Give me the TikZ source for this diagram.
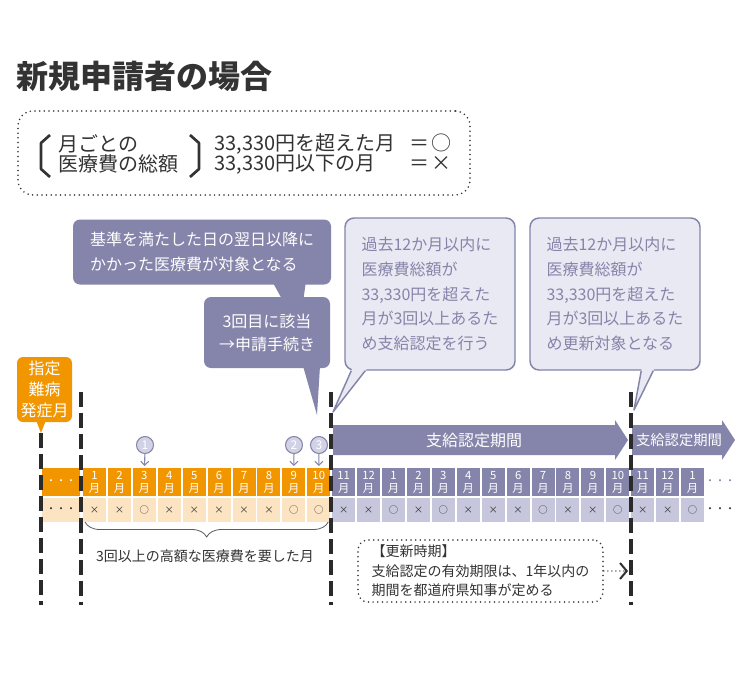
\documentclass[tikz,border=0pt]{standalone}
\usepackage{fontspec}
\setmainfont{Noto Sans CJK JP}
\usetikzlibrary{positioning,calc,arrows.meta,decorations.pathreplacing}

\definecolor{orangeA}{HTML}{F29600}
\definecolor{orangeB}{HTML}{FCE4C3}
\definecolor{purpA}{HTML}{8584AA}
\definecolor{purpB}{HTML}{C6C6DC}
\definecolor{purpC}{HTML}{D2D2E6}
\definecolor{purpL}{HTML}{E9E9F3}
\definecolor{ink}{HTML}{333333}
\definecolor{bar}{HTML}{2A2A2A}

\newdimen\px \px=0.75pt

\tikzset{
  dotline/.style={draw=ink, line width=1.3pt, line cap=round, dash pattern=on 0pt off 3.5pt},
  vbar/.style={draw=bar, line width=2.8pt, dash pattern=on 11.25pt off 4.5pt},
  callD/.style={fill=purpA, text=white, rounded corners=7\px, inner sep=0pt, align=left,
    font=\fontsize{12pt}{18.75pt}\selectfont},
  callL/.style={fill=purpL, draw=purpA, line width=1.1pt, text=purpA, rounded corners=9\px,
    inner sep=0pt, align=left, font=\fontsize{12pt}{18.6pt}\selectfont},
  cell/.style={minimum width=23\px, inner sep=0pt, outer sep=0pt},
  mtop/.style={cell, minimum height=28\px, text=white, align=center,
    font=\fontsize{8.5pt}{9.75pt}\selectfont},
  mbot/.style={cell, minimum height=24\px, text=ink, font=\fontsize{7pt}{7pt}\selectfont},
}

\begin{document}
\begin{tikzpicture}[x=0.75pt, y=-0.75pt,
  crit/.style={text=ink, inner sep=0pt, font=\fontsize{15pt}{20\px}\selectfont},
  critline/.style={crit, text height=11pt, text depth=2pt},
  numc/.style={circle, fill=purpC, draw=purpA, line width=0.8pt, minimum size=17\px,
    inner sep=0pt, text=white, font=\fontsize{9pt}{9pt}\selectfont},
  numarrow/.style={draw=purpA, line width=0.8pt, -{Straight Barb[length=3pt,width=6pt]},
    shorten >=2\px},
  note/.style={text=ink, inner sep=0pt, font=\fontsize{10.5pt}{14.6pt}\selectfont}]

\fill[white] (0,0) rectangle (750,700);
\useasboundingbox (0,0) rectangle (750,700);

% title
\node[anchor=west, text=ink, inner sep=0pt, font=\fontsize{24pt}{24pt}\selectfont\bfseries]
  (title) at (16,76) {新規申請者の場合};

% what counts as a month
\node[dotline, rounded corners=15\px, minimum width=452\px, minimum height=84\px]
  (critbox) at (244,153) {};
\draw[ink, line width=2pt, line join=round] (50,135) -- (41,143) -- (41,169) -- (50,177);
\draw[ink, line width=2pt, line join=round] (190,135) -- (199,143) -- (199,169) -- (190,177);
\node[crit, anchor=west, align=left] (crit) at (58,154) {月ごとの\\医療費の総額};
\node[critline, anchor=west] (over) at (214,144) {33,330円を超えた月};
\node[critline, anchor=west] (under) at (214,164) {33,330円以下の月};
\node[critline] (eqA) at (419,144) {＝};
\node[critline] (symA) at (441,144) {○};
\node[critline] (eqB) at (419,164) {＝};
\node[critline] (symB) at (441,164) {×};

% dark callouts
\fill[purpA] (272,281) -- (306,281) -- (299,330) -- cycle;
\node[callD, minimum width=258\px, minimum height=65\px] (base) at (202,252)
  {基準を満たした日の翌日以降に\\かかった医療費が対象となる};
\coordinate (tip2) at (317,415);
\fill[purpA] (303,366) -- (320,366) -- (tip2) -- cycle;
\node[callD, align=center, font=\fontsize{12pt}{17.25pt}\selectfont,
  minimum width=126\px, minimum height=71\px] (apply) at (267,332.5)
  {3回目に該当\\→申請手続き};

% light callouts
\node[callL, minimum width=170\px, minimum height=152\px] (cert) at (430,294)
  {過去12か月以内に\\医療費総額が\\33,330円を超えた\\月が3回以上あるた\\め支給認定を行う};
\coordinate (tip3) at (333,412);
\coordinate (b3l) at ($(cert.south west)+(7,0)$);
\coordinate (b3r) at ($(cert.south west)+(21,0)$);
\fill[purpL] ($(tip3)!1.1!(b3l)$) -- ($(tip3)!1.1!(b3r)$) -- (tip3) -- cycle;
\draw[purpA, line width=1.1pt, line join=round] (b3l) -- (tip3) -- (b3r);

\node[callL, minimum width=170\px, minimum height=152\px] (renew) at (615,294)
  {過去12か月以内に\\医療費総額が\\33,330円を超えた\\月が3回以上あるた\\め更新対象となる};
\coordinate (tip4) at (634,410);
\coordinate (b4l) at ($(renew.south west)+(112,0)$);
\coordinate (b4r) at ($(renew.south west)+(124,0)$);
\fill[purpL] ($(tip4)!1.1!(b4l)$) -- ($(tip4)!1.1!(b4r)$) -- (tip4) -- cycle;
\draw[purpA, line width=1.1pt, line join=round] (b4l) -- (tip4) -- (b4r);

% onset month
\node[fill=orangeA, text=white, rounded corners=6\px, inner sep=0pt, align=center,
  font=\fontsize{12pt}{16pt}\selectfont, minimum width=55\px, minimum height=65\px]
  (onset) at (44.5,389.5) {指定\\難病\\発症月};
\fill[orangeA] (36,420) -- (46,420) -- (41,433) -- cycle;

% periods
\fill[purpA] (333,425) -- (615,425) -- (615,420) -- (628,440) -- (615,460)
  -- (615,455) -- (333,455) -- cycle;
\node[text=white, font=\fontsize{12pt}{12pt}\selectfont] (span1) at (474,440) {支給認定期間};
\fill[purpA] (632,425) -- (722,425) -- (722,420) -- (735,440) -- (722,460)
  -- (722,455) -- (632,455) -- cycle;
\node[text=white, font=\fontsize{10.75pt}{10.75pt}\selectfont] (span2) at (679,440) {支給認定期間};

% months
\node[mtop, fill=orangeA, minimum width=38\px, font=\fontsize{7.5pt}{7.5pt}\selectfont]
  (m0) at (61,482) {・・・};
\node[mbot, fill=orangeB, minimum width=38\px, font=\fontsize{7.5pt}{7.5pt}\selectfont,
  below=2\px of m0] (k0) {・・・};
\foreach \k/\mo/\sym in {1/1/×,2/2/×,3/3/○,4/4/×,5/5/×,6/6/×,7/7/×,8/8/×,9/9/○,10/10/○,
    11/11/×,12/12/×,13/1/○,14/2/×,15/3/○,16/4/×,17/5/×,18/6/×,19/7/○,20/8/×,
    21/9/×,22/10/○,23/11/×,24/12/×,25/1/○}{
  \ifnum\k<11 \def\ctop{orangeA}\def\cbot{orangeB}\else\def\ctop{purpA}\def\cbot{purpB}\fi
  \node[mtop, fill=\ctop] (m\k) at ({94.5+24.92*(\k-1)},482) {\mo\\月};
  \node[mbot, fill=\cbot, below=2\px of m\k] (k\k) {\sym};
}
\node[text=purpA, font=\fontsize{7.5pt}{7.5pt}\selectfont] (mtail) at (720,482) {・・・};
\node[text=ink, font=\fontsize{7.5pt}{7.5pt}\selectfont] (ktail) at (720,510) {・・・};

% the three months over the limit
\node[numc] (c1) at (145,445) {1};
\node[numc] (c2) at (294,445) {2};
\node[numc] (c3) at (319,445) {3};
\draw[numarrow] (c1) -- (m3);
\draw[numarrow] (c2) -- (m9);
\draw[numarrow] (c3) -- (m10);

% dashed limits
\draw[vbar] (41,433) -- (41,605);
\draw[vbar] (81,392) -- (81,605);
\draw[vbar] (331,392) -- (331,605);
\draw[vbar] (631,392) -- (631,605);

% brace
\draw[draw=ink!80, line width=0.6pt, decorate, decoration={brace, mirror, amplitude=15\px}]
  ([xshift=2\px]k1.south west) -- ([xshift=-2\px]k10.south east);
\node[note] (bracelbl) at (205,556) {3回以上の高額な医療費を要した月};

% renewal note
\node[dotline, note, rounded corners=10\px, align=left, minimum width=245\px,
  minimum height=62\px] (renewbox) at (480.5,571)
  {【更新時期】\\支給認定の有効期限は、1年以内の\\期間を都道府県知事が定める};
\coordinate (renewtip) at (628,571);
\draw[ink, line width=1.1pt, line cap=round, dash pattern=on 0pt off 3pt,
  -{Straight Barb[length=5pt,width=12pt,line width=1.5pt]}] (renewbox.east) -- (renewtip);

\end{tikzpicture}
\end{document}
